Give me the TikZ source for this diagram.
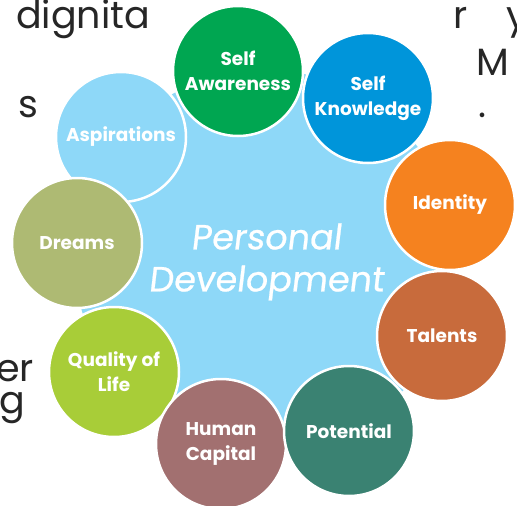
\documentclass[tikz,border=0pt]{standalone}
\usepackage{fontspec}
\setmainfont{Poppins}
\newfontfamily\pdfont[FakeSlant=0.12,FakeBold=0.6]{Poppins}
\definecolor{cgreen}{HTML}{00A651}
\definecolor{cblue}{HTML}{0095DA}
\definecolor{corange}{HTML}{F5821F}
\definecolor{ctalent}{HTML}{C86B3C}
\definecolor{cteal}{HTML}{3A8272}
\definecolor{cmauve}{HTML}{A27070}
\definecolor{clime}{HTML}{A8CD38}
\definecolor{colive}{HTML}{AEBA73}
\definecolor{clight}{HTML}{8ED8F8}
\tikzset{
  bub/.style={circle, draw=white, line width=2.5pt, minimum size=130pt, inner sep=0pt,
    text=white, align=center, font=\fontsize{18.5}{25}\selectfont\bfseries},
  bgtext/.style={anchor=base west, inner sep=0pt, text=black!85, font=\fontsize{38}{40}\selectfont}
}
\begin{document}
\begin{tikzpicture}[x=1pt,y=-1pt]
\useasboundingbox (0,0) rectangle (517,506);
\clip (0,0) rectangle (517,506);
\fill[white] (0,0) rectangle (517,506);
% background text fragments
\node[bgtext] (t1) at (16,28) {dignita};
\node[bgtext] (t2) at (18,117) {s};
\node[bgtext] (t3) at (453,28) {r};
\node[bgtext] (t4) at (506,28) {y};
\node[bgtext] (t5) at (476,75) {M};
\node[bgtext] (t6) at (478,117) {.};
\node[bgtext] (t7) at (-4,381) {er};
\node[bgtext] (t8) at (-1,413) {g};
% central circle
\node[circle, fill=clight, minimum size=380pt, inner sep=0pt] (pd) at (265,260) {};
% outer bubbles
\node[bub, fill=clight] (asp) at (121,137) {Aspirations};
\node[bub, fill=colive] (dre) at (77,243) {Dreams};
\node[bub, fill=cgreen] (saw) at (238,71) {Self\\Awareness};
\node[bub, fill=cblue] (skn) at (368,98) {Self\\Knowledge};
\node[bub, fill=corange] (ide) at (450,205) {Identity};
\node[bub, fill=clime] (qol) at (114,372) {Quality of\\Life};
\node[bub, fill=cmauve] (hum) at (221,444) {Human\\Capital};
\node[bub, fill=cteal] (pot) at (349,431) {Potential};
\node[bub, fill=ctalent] (tal) at (442,336) {Talents};
% central text
\node[text=white, align=center, inner sep=0pt, font=\pdfont\fontsize{35}{42}\selectfont] (pdt) at (266,262) {Personal\\Development};
\end{tikzpicture}
\end{document}
